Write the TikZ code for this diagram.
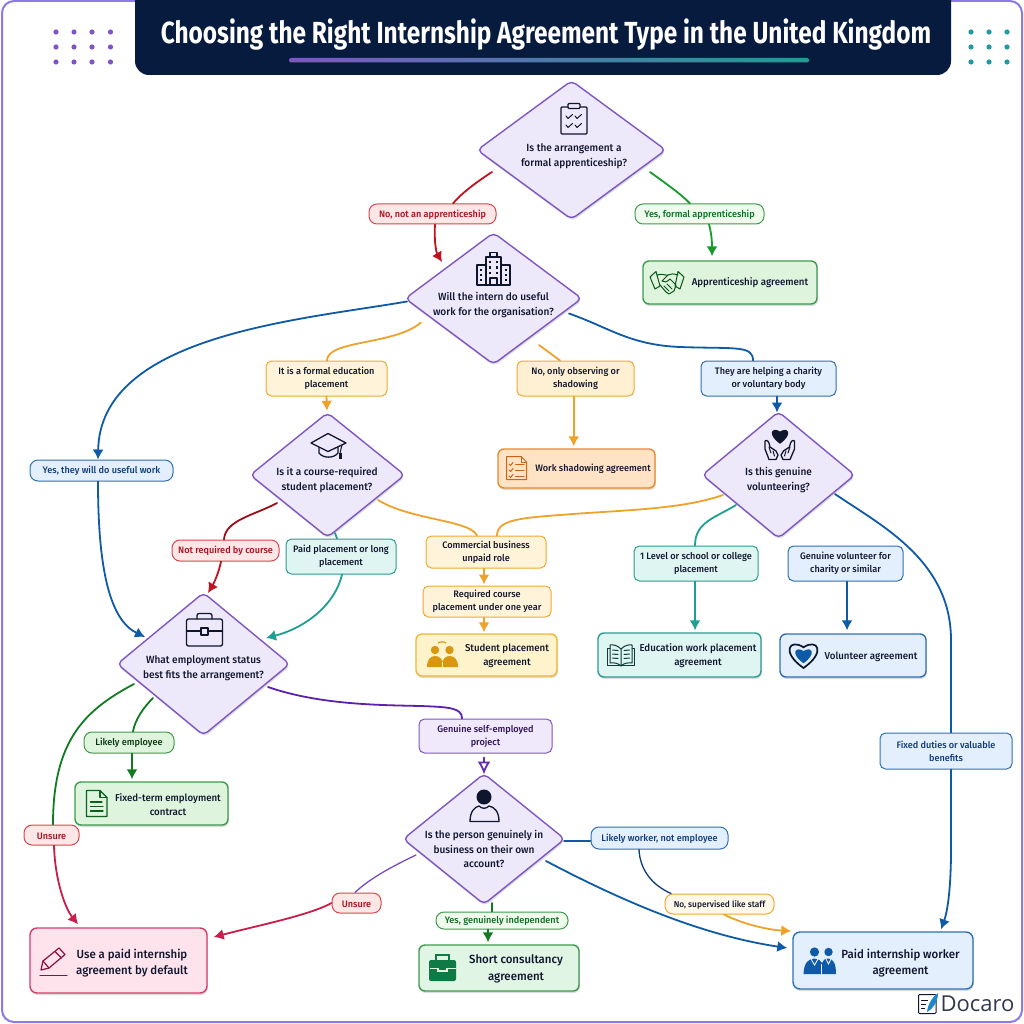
\documentclass[tikz,border=0pt]{standalone}
\usepackage{fontspec}
\setmainfont[FakeStretch=0.97]{Fira Sans Medium}
\newfontfamily\ttlfont[FakeStretch=0.8]{Fira Sans Bold}
\newfontfamily\logofont{Open Sans}
\usetikzlibrary{shapes.geometric,shadows,arrows.meta,calc}
\definecolor{navy}{HTML}{061B3E}
\definecolor{ink}{HTML}{10152E}
\definecolor{lav}{HTML}{EEE8FB}
\definecolor{lavd}{HTML}{7E57C2}
\definecolor{gF}{HTML}{DFF4DC}\definecolor{gD}{HTML}{3E9A4E}\definecolor{gT}{HTML}{0B6B1F}\definecolor{gC}{HTML}{159A2B}
\definecolor{g2F}{HTML}{E0F5E4}
\definecolor{rF}{HTML}{FDE6E6}\definecolor{rD}{HTML}{D9474F}\definecolor{rT}{HTML}{A80F1A}\definecolor{rC}{HTML}{C1121F}
\definecolor{oF}{HTML}{FFF4D9}\definecolor{oD}{HTML}{F0A830}\definecolor{oC}{HTML}{EFA22A}
\definecolor{o2F}{HTML}{FFE3C4}\definecolor{o2D}{HTML}{E88A2E}\definecolor{o2I}{HTML}{C4651B}
\definecolor{yF}{HTML}{FFF3CC}\definecolor{yD}{HTML}{F2B632}\definecolor{yI}{HTML}{D9970F}
\definecolor{tF}{HTML}{DFF5F1}\definecolor{tD}{HTML}{2A9D8F}\definecolor{tC}{HTML}{1F9E92}\definecolor{tI}{HTML}{0B3B3B}
\definecolor{bF}{HTML}{E3EFFC}\definecolor{bD}{HTML}{2F6FB5}\definecolor{bC}{HTML}{0F5AA6}\definecolor{bT}{HTML}{0E3A7A}
\definecolor{pF}{HTML}{F0E9FB}\definecolor{pC}{HTML}{5B21A8}
\definecolor{kF}{HTML}{FFE3EC}\definecolor{kD}{HTML}{D63D6B}\definecolor{kC}{HTML}{C81E4A}\definecolor{kI}{HTML}{8A1040}
\tikzset{
 softshadow/.style={drop shadow={shadow xshift=0.8pt,shadow yshift=-2pt,opacity=.2,fill=black!70}},
 decide/.style={shape=diamond,draw=lavd,fill=lav,line width=1.4pt,rounded corners=5pt,inner sep=0pt,softshadow},
 dtext/.style={align=center,font=\fontsize{10.4}{14.5}\selectfont,text=ink,inner sep=0pt,yshift=-1pt},
 rbox/.style={draw,line width=1.4pt,rounded corners=6pt,inner sep=0pt,softshadow},
 rtext/.style={align=center,font=\fontsize{10}{14}\selectfont,text=ink,inner sep=0pt,yshift=-1pt},
 rbig/.style={align=center,font=\fontsize{11.8}{16.5}\selectfont,text=ink,inner sep=0pt,yshift=-1pt},
 lab/.style={draw,line width=1pt,rounded corners=5.5pt,inner sep=0pt,align=center,font=\fontsize{9.4}{13}\selectfont,text=ink,execute at begin node={\rule{0pt}{11.5pt}}},
 pill/.style={draw,line width=1pt,rounded corners=8pt,inner sep=0pt,align=center,font=\fontsize{9.4}{13}\selectfont,execute at begin node={\rule{0pt}{9pt}}},
 conn/.style={line width=1.8pt,line cap=round},
 arr/.style={conn,-{Latex[length=10pt,width=11pt]}},
 ic/.style={line width=1.3pt,line join=round,line cap=round},
 pics/heartp/.style={code={\path[pic actions] (0,5) .. controls (-10,-2) and (-6,-8) .. (0,-4) .. controls (6,-8) and (10,-2) .. (0,5) -- cycle;}},
}
\begin{document}
\begin{tikzpicture}[x=1pt,y=-1pt]
\useasboundingbox (0,0) rectangle (1024,1024);
\fill[white] (0,0) rectangle (1024,1024);
% frame and title
\draw[line width=2pt,color={rgb,255:red,139;green,123;blue,232},rounded corners=12pt] (2,1) rectangle (1022,1022);
\fill[navy,rounded corners=14pt] (135,-20) rectangle (951,75);
\node[text=white,inner sep=0pt,font=\fontsize{30.5}{34}\ttlfont] (title) at (546,34.5) {Choosing the Right Internship Agreement Type in the United Kingdom};
\shade[left color=lavd,right color=tC,rounded corners=2pt] (289,58) rectangle (809,62.5);
\foreach \x in {56,74,92,110.5}\foreach \y in {32,47,62}\fill[color={rgb,255:red,128;green,84;blue,200}] (\x,\y) circle (2.6);
\foreach \x in {971,989,1007}\foreach \y in {32,47,62}\fill[color={rgb,255:red,29;green,154;blue,165}] (\x,\y) circle (2.6);

% decisions
\node[decide,minimum width=189pt,minimum height=139pt,shape aspect=1.36] (D1) at (571.5,150) {};
\node[decide,minimum width=177pt,minimum height=132pt,shape aspect=1.34] (D2) at (493.5,298.5) {};
\node[decide,minimum width=155pt,minimum height=125pt,shape aspect=1.24] (D3) at (327.5,475) {};
\node[decide,minimum width=153pt,minimum height=127pt,shape aspect=1.2] (D4) at (778.5,475) {};
\node[decide,minimum width=173pt,minimum height=143pt,shape aspect=1.21] (D5) at (203.5,664) {};
\node[decide,minimum width=162pt,minimum height=131pt,shape aspect=1.23] (D6) at (484,839) {};
\node[dtext] (D1t) at (574,155) {Is the arrangement a\\formal apprenticeship?};
\node[dtext] (D2t) at (493.5,304) {Will the intern do useful\\work for the organisation?};
\node[dtext] (D3t) at (327,479) {Is it a course-required\\student placement?};
\node[dtext] (D4t) at (778.5,479) {Is this genuine\\volunteering?};
\node[dtext] (D5t) at (203.5,667) {What employment status\\best fits the arrangement?};
\node[dtext] (D6t) at (484,848) {Is the person genuinely in\\business on their own\\account?};

% results
\node[rbox,draw=gD,fill=gF,minimum width=174pt,minimum height=43pt] (R1) at (730,282.5) {};
\node[rbox,draw=o2D,fill=o2F,minimum width=157pt,minimum height=39pt] (R2) at (576.5,468.5) {};
\node[rbox,draw=yD,fill=yF,minimum width=141pt,minimum height=42pt] (R3) at (486.5,655) {};
\node[rbox,draw=tD,fill=tF,minimum width=163pt,minimum height=44pt] (R4) at (679.5,655) {};
\node[rbox,draw=bD,fill=bF,minimum width=146pt,minimum height=43pt] (R5) at (853,655.5) {};
\node[rbox,draw=gD,fill=gF,minimum width=153pt,minimum height=43pt] (R6) at (151.5,803.5) {};
\node[rbox,draw=kD,fill=kF,minimum width=177pt,minimum height=65pt,rounded corners=7pt] (R7) at (118.5,960.5) {};
\node[rbox,draw=gD,fill=g2F,minimum width=160pt,minimum height=46pt] (R8) at (499,968) {};
\node[rbox,draw=bD,fill=bF,minimum width=180pt,minimum height=57pt,rounded corners=7pt] (R9) at (883,960.5) {};
\node[rtext] (R1t) at (750,282) {Apprenticeship agreement};
\node[rtext,font=\fontsize{9.4}{13}\selectfont] (R2t) at (593,468) {Work shadowing agreement};
\node[rtext] (R3t) at (507,655) {Student placement\\agreement};
\node[rtext] (R4t) at (698,655) {Education work placement\\agreement};
\node[rtext] (R5t) at (871,656) {Volunteer agreement};
\node[rtext] (R6t) at (168,804) {Fixed-term employment\\contract};
\node[rbig] (R7t) at (132,962) {Use a paid internship\\agreement by default};
\node[rbig] (R8t) at (516,968) {Short consultancy\\agreement};
\node[rbig] (R9t) at (900.5,962) {Paid internship worker\\agreement};

% labels
\node[pill,draw=rD,fill=rF,text=rT,minimum width=127pt,minimum height=20pt] (L1) at (432.5,214) {No, not an apprenticeship};
\node[pill,draw=gD,fill=gF!50,text=gT,minimum width=129pt,minimum height=20pt] (L2) at (699.5,214) {Yes, formal apprenticeship};
\node[lab,draw=oD,fill=oF,minimum width=121pt,minimum height=35pt] (L3) at (326.5,378.5) {It is a formal education\\placement};
\node[lab,draw=oD,fill=oF!70!o2F,minimum width=117pt,minimum height=35pt] (L4) at (575.5,378.5) {No, only observing or\\shadowing};
\node[lab,draw=bD,fill=bF,minimum width=135pt,minimum height=35pt] (L5) at (768.5,378.5) {They are helping a charity\\or voluntary body};
\node[pill,draw=bD,fill=bF,text=bT,minimum width=143pt,minimum height=21pt] (L6) at (101.5,470.5) {Yes, they will do useful work};
\node[pill,draw=rD,fill=rF,text=rT,minimum width=107pt,minimum height=21pt] (L7) at (225.5,550.5) {Not required by course};
\node[lab,draw=tD,fill=tF,minimum width=110pt,minimum height=35pt] (L8) at (341,556.5) {Paid placement or long\\placement};
\node[lab,draw=oD,fill=oF,minimum width=120pt,minimum height=32pt] (L9) at (486,552) {Commercial business\\unpaid role};
\node[lab,draw=oD,fill=oF,minimum width=128pt,minimum height=31pt] (L10) at (487,601.5) {Required course\\placement under one year};
\node[lab,draw=tD,fill=tF,minimum width=124pt,minimum height=35pt] (L11) at (696,563.5) {1 Level or school or college\\placement};
\node[lab,draw=bD,fill=bF,minimum width=115pt,minimum height=35pt] (L12) at (845.5,563.5) {Genuine volunteer for\\charity or similar};
\node[lab,draw=bD,fill=bF,text=bT,minimum width=132pt,minimum height=36pt] (L13) at (946,751) {Fixed duties or valuable\\benefits};
\node[pill,draw=gD,fill=gF,text=gT!50!black,minimum width=90pt,minimum height=21pt] (L14) at (129,742.5) {Likely employee};
\node[pill,draw=rD,fill=rF,text=rT,minimum width=55pt,minimum height=20pt] (L15) at (51.5,835) {Unsure};
\node[pill,draw=rD,fill=rF,text=rT,minimum width=49pt,minimum height=20pt] (L16) at (356.5,903) {Unsure};
\node[lab,draw=lavd,fill=pF,text=pC!50!black,minimum width=133pt,minimum height=34pt] (L17) at (485.5,736) {Genuine self-employed\\project};
\node[pill,draw=bD,fill=bF,text=bT,minimum width=137pt,minimum height=22pt] (L18) at (659.5,838) {Likely worker, not employee};
\node[pill,draw=oD,fill=oF!60,text=ink,minimum width=109pt,minimum height=20pt,font=\fontsize{8.6}{12}\selectfont] (L19) at (719.5,904) {No, supervised like staff};
\node[pill,draw=gD,fill=gF!50,text=gT,minimum width=132pt,minimum height=17pt] (L20) at (502,920.5) {Yes, genuinely independent};

% connectors
\draw[conn,rC] ([shift={(-79.5,22)}]D1.center) .. controls (472,185) and (460,195) .. ([xshift=20.5pt]L1.north);
\draw[arr,rC] ([xshift=2.5pt]L1.south) .. controls (434,240) and (436,252) .. ([shift={(-51.5,-36.5)}]D2.center);
\draw[conn,gC] ([shift={(78.5,22)}]D1.center) .. controls (668,185) and (682,195) .. ([xshift=-9.5pt]L2.north);
\draw[arr,gC] ([xshift=9.5pt]L2.south) .. controls (712,235) and (712,245) .. ([shift={(-18,-4)}]R1.north);
\draw[arr,bC] ([shift={(-86.5,3)}]D2.center) .. controls (300,320) and (100,335) .. ([xshift=-3.5pt]L6.north);
\draw[arr,bC] ([xshift=-3.5pt]L6.south) .. controls (98,570) and (110,620) .. ([shift={(-58.5,-27)}]D5.center);
\draw[conn,oC] ([shift={(-72.5,24)}]D2.center) .. controls (395,345) and (327,340) .. ([xshift=.5pt]L3.north);
\draw[arr,oC] (L3.south) -- ([shift={(-.5,-1)}]D3.center |- D3.north);
\draw[conn,oC] ([shift={(45.5,46.5)}]D2.center) -- ([xshift=-15.5pt]L4.north);
\draw[arr,oC] ([xshift=-1.8pt]L4.south) -- ([shift={(-2.8,-2)}]R2.north);
\draw[conn,bC] ([shift={(75.5,15)}]D2.center) .. controls (610,328) and (630,345) .. (680,347) .. controls (735,349) and (753,345) .. ([xshift=-15.5pt]L5.north);
\draw[arr,bC] ([xshift=8.5pt]L5.south) -- ([shift={(-1.5,-62.5)}]D4.center);
\draw[conn,rC!80!black] ([shift={(-50.5,28)}]D3.center) .. controls (255,515) and (225,520) .. ([xshift=-1.5pt]L7.north);
\draw[arr,rC] ([xshift=-4.5pt]L7.south) .. controls (219,572) and (214,583) .. ([shift={(4.5,-71)}]D5.center);
\draw[conn,tC] ([shift={(7.5,58)}]D3.center) -- ([xshift=-4pt]L8.north);
\draw[arr,tC] ([xshift=1pt]L8.south) .. controls (335,605) and (305,628) .. ([shift={(62.5,-26)}]D5.center);
\draw[conn,oC] ([shift={(50.5,25)}]D3.center) .. controls (410,520) and (470,520) .. ([xshift=-9pt]L9.north);
\draw[conn,oC] ([shift={(-55.5,20)}]D4.center) .. controls (680,510) and (620,510) .. (560,515) .. controls (520,518) and (497,520) .. ([xshift=11pt]L9.north);
\draw[arr,oC] ([xshift=-2pt]L9.south) -- ([shift={(-3,-1)}]L10.north);
\draw[arr,oC] ([xshift=-3pt]L10.south) -- ([shift={(-2.5,-1)}]R3.north);
\draw[conn,tC] ([shift={(-42.5,30)}]D4.center) .. controls (715,518) and (695,522) .. ([xshift=-1pt]L11.north);
\draw[arr,tC] ([xshift=-1pt]L11.south) -- ([shift={(15.5,-2)}]R4.north);
\draw[arr,bC] ([xshift=1.5pt]L12.south) -- ([shift={(-6,-3)}]R5.north);
\draw[conn,bC] ([shift={(56.5,19)}]D4.center) .. controls (880,525) and (951,560) .. (951,640) -- ([xshift=5pt]L13.north);
\draw[arr,bC] ([xshift=5pt]L13.south) -- (951,850) .. controls (951,885) and (948,910) .. ([shift={(58,-2)}]R9.north);
\draw[conn,gC!80!black] ([shift={(-50.5,34)}]D5.center) .. controls (143,708) and (135,720) .. ([xshift=4pt]L14.north);
\draw[arr,gC!80!black] ([xshift=3pt]L14.south) -- ([shift={(-19.5,-2)}]R6.north);
\draw[conn,gC!80!black] ([shift={(-69.5,20)}]D5.center) .. controls (85,710) and (53,740) .. ([xshift=1.5pt]L15.north);
\draw[arr,kC] ([xshift=2.5pt]L15.south) .. controls (55,880) and (65,908) .. ([shift={(-40.5,-3)}]R7.north);
\draw[conn,pC] ([shift={(64.5,23)}]D5.center) .. controls (320,705) and (380,705) .. (420,706) .. controls (450,707) and (462,708) .. ([xshift=-23.5pt]L17.north);
\draw[conn,pC!80!lavd,-{Latex[open,fill=white,length=13pt,width=13pt]}] ([shift={(-1.5,4)}]L17.south) -- ([shift={(0,-64.5)}]D6.center);
\draw[conn,lavd!80!pC,line width=1.3pt] ([shift={(-68,16)}]D6.center) .. controls (395,865) and (370,878) .. ([xshift=-1.5pt]L16.north);
\draw[arr,kC] (L16.west) .. controls (310,915) and (260,925) .. ([shift={(6,-23.5)}]R7.east);
\draw[conn,gC!80!black] ([shift={(8,64)}]D6.center) -- ([xshift=-10pt]L20.north);
\draw[arr,gC!80!black] ([xshift=-14pt]L20.south) -- ([shift={(-11,-2)}]R8.north);
\draw[conn,bC] ([shift={(80,2)}]D6.center) -- ([yshift=-3pt]L18.west);
\draw[conn,bT,line width=1.3pt] ([xshift=-20.5pt]L18.south) .. controls (640,870) and (652,885) .. ([xshift=-48.5pt]L19.north);
\draw[arr,oC] ([xshift=4.5pt]L19.south) .. controls (745,925) and (770,930) .. ([shift={(-1,-29.5)}]R9.west);
\draw[arr,bC] ([shift={(62,22)}]D6.center) .. controls (620,900) and (700,935) .. ([shift={(-5,-12.5)}]R9.west);

% icons
% clipboard
\draw[ic,ink] (561,107) [rounded corners=1pt] rectangle (587,134);
\draw[ic,ink,fill=lav] (568,103.5) [rounded corners=1pt] rectangle (580,108.5);
\foreach \x in {566,575}\foreach \y in {116,125}\draw[ic,ink,line width=1pt] (\x,\y) -- (\x+2,\y+2.5) -- (\x+6.5,\y-1.5);
% building
\draw[ic,ink] (486,265) -- (477,265) -- (477,285) -- (510,285) -- (510,265) -- (501,265);
\draw[ic,ink] (486,285) -- (486,257) -- (501,257) -- (501,285);
\draw[ic,ink] (490,257) -- (490,252.5) -- (497,252.5) -- (497,257);
\draw[ic,ink] (490,285) -- (490,278) -- (497,278) -- (497,285);
\foreach \x in {490,497}\foreach \y in {262,267.5,273}\fill[ink] (\x-1.2,\y-1.2) rectangle (\x+1.2,\y+1.2);
\foreach \x in {481,506}\foreach \y in {270,275,280}\fill[ink] (\x-1.1,\y-1.1) rectangle (\x+1.1,\y+1.1);
% mortarboard
\draw[ic,ink,fill=lav] (311,443) -- (328,433.5) -- (346,443) -- (328,451.5) -- cycle;
\draw[ic,ink] (319,447.5) -- (319,453) .. controls (323,458.5) and (334,458.5) .. (338,453) -- (338,447.5);
\draw[ic,ink,line width=1pt] (342,445) -- (340,453);
\fill[ink] (338.8,452.5) rectangle (341.6,458.5);
% hands and heart
\pic[fill=ink,scale=1.35] at (780,437) {heartp};
\draw[ic,ink] (776,459.5) -- (769,459.5) -- (765,449) -- (765,441) .. controls (767,439.5) and (769,441) .. (770,447) -- (776,451) -- (778,455) -- (776,459.5);
\draw[ic,ink,line width=1pt] (769,447) -- (771,453) (773,451) -- (774.5,456);
\draw[ic,ink] (783,459.5) -- (790,459.5) -- (794.5,449) -- (794.5,441) .. controls (792.5,439.5) and (790.5,441) .. (789.5,447) -- (783.5,451) -- (781,455) -- (783,459.5);
\draw[ic,ink,line width=1pt] (790,447) -- (788,453) (786,451) -- (784.5,456);
% briefcase
\draw[ic,ink] (186.5,619) [rounded corners=2pt] rectangle (222.5,646);
\draw[ic,ink] (197,619) [rounded corners=2pt] -- (197,613.5) -- (212,613.5) -- (212,619);
\draw[ic,ink] (186.5,631) -- (201,631) (208,631) -- (222.5,631);
\draw[ic,ink,fill=lav] (201,628) rectangle (208,635);
% person
\fill[ink] (484,797) circle (7.5);
\draw[ic,ink] (470,821.5) .. controls (470,811) and (475,807) .. (479,806) .. controls (482,809) and (486,809) .. (489,806) .. controls (494,807) and (499,811) .. (499,821.5) -- cycle;
% handshake
\begin{scope}[gT!80!black,line width=1pt,line join=round,line cap=round]
\draw (650,277) -- (656,271.5) -- (660,286) -- (655,289) -- cycle;
\draw (684,277) -- (678,271.5) -- (675,286) -- (680,289) -- cycle;
\draw (657,275) .. controls (662,273) and (666,276) .. (668,275) .. controls (671,273) and (674,274) .. (678,275);
\draw (668,275) -- (662,281) .. controls (664,283) and (667,282) .. (670,279) -- (676,285);
\draw (660,285) -- (666,292) -- (669,294) -- (674,291) -- (676,285);
\draw (664,286) -- (669,291) (667,284) -- (672,289);
\end{scope}
% work shadowing checklist
\begin{scope}[o2I,line width=1pt,line join=round,line cap=round]
\draw (506.5,456.5) -- (521,456.5) -- (526.5,462) -- (526.5,479.5) -- (506.5,479.5) -- cycle;
\draw (521,456.5) -- (521,462) -- (526.5,462);
\foreach \y in {464,470,476}{\draw (509,\y) -- (510.5,\y+1.5) -- (513,\y-1.5);\draw (515.5,\y) -- (524,\y);}
\end{scope}
% students
\fill[yI] (435,650) circle (4.2) (449.5,650) circle (4.2);
\fill[yI] (427,667) .. controls (427,659) and (431,656) .. (435,656) .. controls (439,656) and (442,659) .. (442.5,662) .. controls (443,659) and (446,656) .. (449.5,656) .. controls (454,656) and (458,659) .. (458,667) -- cycle;
\draw[yI,line width=1.2pt] (438,643) .. controls (440,641.5) and (444,641.5) .. (446,643);
\draw[yF,line width=.8pt] (442.5,662) -- (442.5,667);
% book
\begin{scope}[tI,line width=1pt,line join=round,line cap=round]
\draw (621,649) .. controls (617,645) and (613,644.5) .. (610,645) -- (610,663) .. controls (614,662.5) and (618,663) .. (621,666) .. controls (624,663) and (628,662.5) .. (632,663) -- (632,645) .. controls (629,644.5) and (625,645) .. (621,649) -- (621,666);
\draw (610,648) -- (607.5,648) -- (607.5,665.5) -- (634.5,665.5) -- (634.5,648) -- (632,648);
\foreach \y in {650,654,658}{\draw (612.5,\y) -- (618,\y+.5);\draw (624,\y+.5) -- (629.5,\y);}
\end{scope}
% heart icon
\pic[draw=ink,line width=1.7pt,scale=2.3] at (803.5,656.5) {heartp};
\pic[fill=bC,scale=1.35] at (803.5,656.5) {heartp};
% document
\begin{scope}[gT!90!black,line width=1.2pt,line join=round,line cap=round]
\draw (86.5,790.5) -- (100,790.5) -- (107,797.5) -- (107,816.5) -- (86.5,816.5) -- cycle;
\draw (100,790.5) -- (100,797.5) -- (107,797.5);
\draw (90.5,802) -- (102,802) (90.5,806.5) -- (103,806.5) (90.5,811) -- (103,811);
\end{scope}
% pencil
\begin{scope}[kI,line width=1.2pt,line join=round,line cap=round]
\draw (41,970) -- (43,961) -- (59,948) -- (65,954.5) -- (49,968) -- cycle;
\draw (43,961) -- (49,968) (55,951.5) -- (61.5,958);
\draw (40,975.5) -- (67,975.5);
\end{scope}
% tool case
\fill[color={rgb,255:red,15;green,122;blue,69},rounded corners=2pt] (429,960) rectangle (456,981);
\draw[color={rgb,255:red,15;green,122;blue,69},line width=1.5pt] (436,960) -- (436,955) -- (449,955) -- (449,960);
\draw[gF,line width=1.2pt] (429.5,968.5) -- (438,968.5) -- (438,971) -- (447,971) -- (447,968.5) -- (455.5,968.5);
% two people
\fill[bC] (814.5,952) circle (4.6) (828.5,952) circle (4.2);
\fill[bC] (803.5,974) .. controls (804,963) and (808,959) .. (814,958.5) .. controls (819,959) and (821,961) .. (822,963) .. controls (823,960) and (825,958.5) .. (828.5,958.5) .. controls (833,959) and (836,963) .. (836,974) -- cycle;
\draw[white,line width=.8pt] (811,959) -- (814.5,965) -- (818,959) (826,959) -- (828.5,964) -- (831,959) (821.5,964) -- (821.5,974);
% logo
\draw[ink,line width=1pt,rounded corners=1pt] (918.5,994.5) -- (936,994.5) -- (936,1013.5) -- (918.5,1013.5) -- cycle;
\draw[ink,line width=.9pt] (921,1000) -- (928,1000) (921,1004) -- (926,1004) (921,1008) -- (925,1008);
\fill[color={rgb,255:red,30;green,136;blue,200}] (927,1012) .. controls (928,1004) and (932,997) .. (938,993) .. controls (938,1001) and (934,1008) .. (927,1012) -- cycle;
\node[text=ink!85,inner sep=0pt,font=\fontsize{22}{26}\logofont] (logo) at (977.5,1003.5) {Docaro};
\end{tikzpicture}
\end{document}
